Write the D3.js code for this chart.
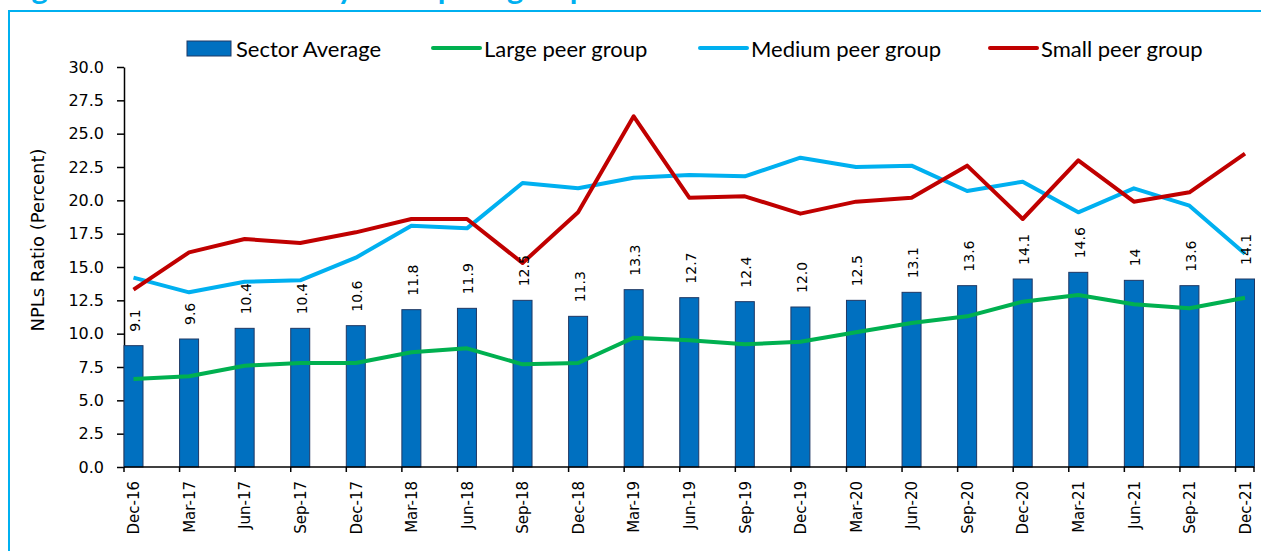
<!DOCTYPE html>
<meta charset="utf-8">
<style>
body { margin: 0; background: #fff; }
svg { display: block; }
</style>
<body>
<script src="https://d3js.org/d3.v7.min.js"></script>
<script>
var width = 1261,
    height = 551;

// quarters
var categories = ["Dec-16","Mar-17","Jun-17","Sep-17","Dec-17","Mar-18","Jun-18","Sep-18","Dec-18",
  "Mar-19","Jun-19","Sep-19","Dec-19","Mar-20","Jun-20","Sep-20","Dec-20","Mar-21","Jun-21","Sep-21","Dec-21"];

var sectorAverage = [9.1, 9.6, 10.4, 10.4, 10.6, 11.8, 11.9, 12.5, 11.3, 13.3, 12.7, 12.4, 12.0, 12.5, 13.1, 13.6, 14.1, 14.6, 14.0, 13.6, 14.1];
var sectorLabels = ["9.1","9.6","10.4","10.4","10.6","11.8","11.9","12.5","11.3","13.3","12.7","12.4","12.0","12.5","13.1","13.6","14.1","14.6","14","13.6","14.1"];

var largePeer  = [6.6, 6.8, 7.6, 7.8, 7.8, 8.6, 8.9, 7.7, 7.8, 9.7, 9.5, 9.2, 9.4, 10.1, 10.8, 11.3, 12.4, 12.9, 12.2, 11.9, 12.7];
var mediumPeer = [14.2, 13.1, 13.9, 14.0, 15.7, 18.1, 17.9, 21.3, 20.9, 21.7, 21.9, 21.8, 23.2, 22.5, 22.6, 20.7, 21.4, 19.1, 20.9, 19.6, 16.0];
var smallPeer  = [13.3, 16.1, 17.1, 16.8, 17.6, 18.6, 18.6, 15.3, 19.1, 26.3, 20.2, 20.3, 19.0, 19.9, 20.2, 22.6, 18.6, 23.0, 19.9, 20.6, 23.5];

var yTicks = d3.range(0, 30.01, 2.5);

var lineSeries = [
  {name: "Large peer group",  values: largePeer,  color: "#00B050"},
  {name: "Medium peer group", values: mediumPeer, color: "#00B0F0"},
  {name: "Small peer group",  values: smallPeer,  color: "#C00000"}
];

var svg = d3.select("body").append("svg")
    .attr("width", width)
    .attr("height", height);

// frame and (cut-off) title
svg.append("text")
    .attr("x", 6).attr("y", -1)
    .style("font-family", "Lato").style("font-weight", "bold").style("font-size", "31px")
    .attr("fill", "#00B0F0")
    .text("Figure 2.4: NPLs Ratio by Bank peer group");

svg.append("rect")
    .attr("x", 9).attr("y", 11)
    .attr("width", width + 20).attr("height", height)
    .attr("fill", "none").attr("stroke", "#00B0F0").attr("stroke-width", 2);

var x = d3.scalePoint().domain(categories).range([133.5, 1245]);
var y = d3.scaleLinear().domain([0, 30]).range([467, 67]);
var barW = 19;

// y axis
var yAxis = svg.append("g")
    .attr("transform", "translate(124,0)")
    .call(d3.axisLeft(y).tickValues(yTicks).tickFormat(d3.format(".1f")).tickSize(7).tickPadding(13).tickSizeOuter(0));
yAxis.select(".domain").attr("stroke", "#000").attr("stroke-width", 1.5);
yAxis.selectAll(".tick line").attr("stroke", "#000").attr("stroke-width", 1.5);
yAxis.selectAll("text")
    .style("font-family", "DejaVu Sans").style("font-size", "16px").attr("fill", "#000");

svg.append("text")
    .attr("transform", "translate(44,240) rotate(-90)")
    .attr("text-anchor", "middle")
    .style("font-family", "DejaVu Sans").style("font-size", "18px")
    .text("NPLs Ratio (Percent)");

// bars
svg.append("g").selectAll("rect")
  .data(sectorAverage)
  .join("rect")
    .attr("x", function(d, i) { return x(categories[i]) - barW / 2; })
    .attr("y", function(d) { return y(d); })
    .attr("width", barW)
    .attr("height", function(d) { return y(0) - y(d); })
    .attr("fill", "#0070C0")
    .attr("stroke", "#1F3864")
    .attr("stroke-width", 1);

// x axis
svg.append("line")
    .attr("x1", 124).attr("x2", 1254)
    .attr("y1", y(0)).attr("y2", y(0))
    .attr("stroke", "#000").attr("stroke-width", 1.5);

svg.append("g").selectAll("line")
  .data(categories.concat(["end"]))
  .join("line")
    .attr("x1", function(d) { return d == "end" ? 1254 : x(d) - barW / 2; })
    .attr("x2", function(d) { return d == "end" ? 1254 : x(d) - barW / 2; })
    .attr("y1", y(0)).attr("y2", y(0) + 5)
    .attr("stroke", "#000").attr("stroke-width", 1.5);

var xAxis = svg.append("g")
    .attr("transform", "translate(0," + y(0) + ")")
    .call(d3.axisBottom(x).tickSize(0));
xAxis.select(".domain").remove();
xAxis.selectAll("text")
    .attr("transform", "rotate(-90)")
    .attr("x", -14).attr("y", 0).attr("dy", "0.35em")
    .attr("text-anchor", "end")
    .style("font-family", "DejaVu Sans").style("font-size", "15px").attr("fill", "#000");

// lines
var line = d3.line()
    .x(function(d, i) { return x(categories[i]); })
    .y(function(d) { return y(d); });

svg.append("g").selectAll("path")
  .data(lineSeries)
  .join("path")
    .attr("d", function(s) { return line(s.values); })
    .attr("fill", "none")
    .attr("stroke", function(s) { return s.color; })
    .attr("stroke-width", 4)
    .attr("stroke-linejoin", "round");

// bar labels
svg.append("g").selectAll("text")
  .data(sectorAverage)
  .join("text")
    .attr("transform", function(d, i) {
      return "translate(" + (x(categories[i]) + 1.5) + "," + (y(d) - 14) + ") rotate(-90)";
    })
    .attr("dy", "0.35em")
    .style("font-family", "DejaVu Sans").style("font-size", "14px")
    .text(function(d, i) { return sectorLabels[i]; });

// legend
var legend = svg.append("g")
    .style("font-family", "Lato").style("font-size", "22px");

legend.append("rect")
    .attr("x", 187).attr("y", 41).attr("width", 44).attr("height", 15)
    .attr("fill", "#0070C0").attr("stroke", "#1F3864").attr("stroke-width", 1);
legend.append("text").attr("x", 236).attr("y", 57).text("Sector Average");

var legendX = [433, 700, 990];
lineSeries.forEach(function(s, i) {
  legend.append("line")
      .attr("x1", legendX[i]).attr("x2", legendX[i] + 47)
      .attr("y1", 48).attr("y2", 48)
      .attr("stroke", s.color).attr("stroke-width", 4).attr("stroke-linecap", "round");
  legend.append("text").attr("x", legendX[i] + 51).attr("y", 57).text(s.name);
});
</script>
</body>
</html>
